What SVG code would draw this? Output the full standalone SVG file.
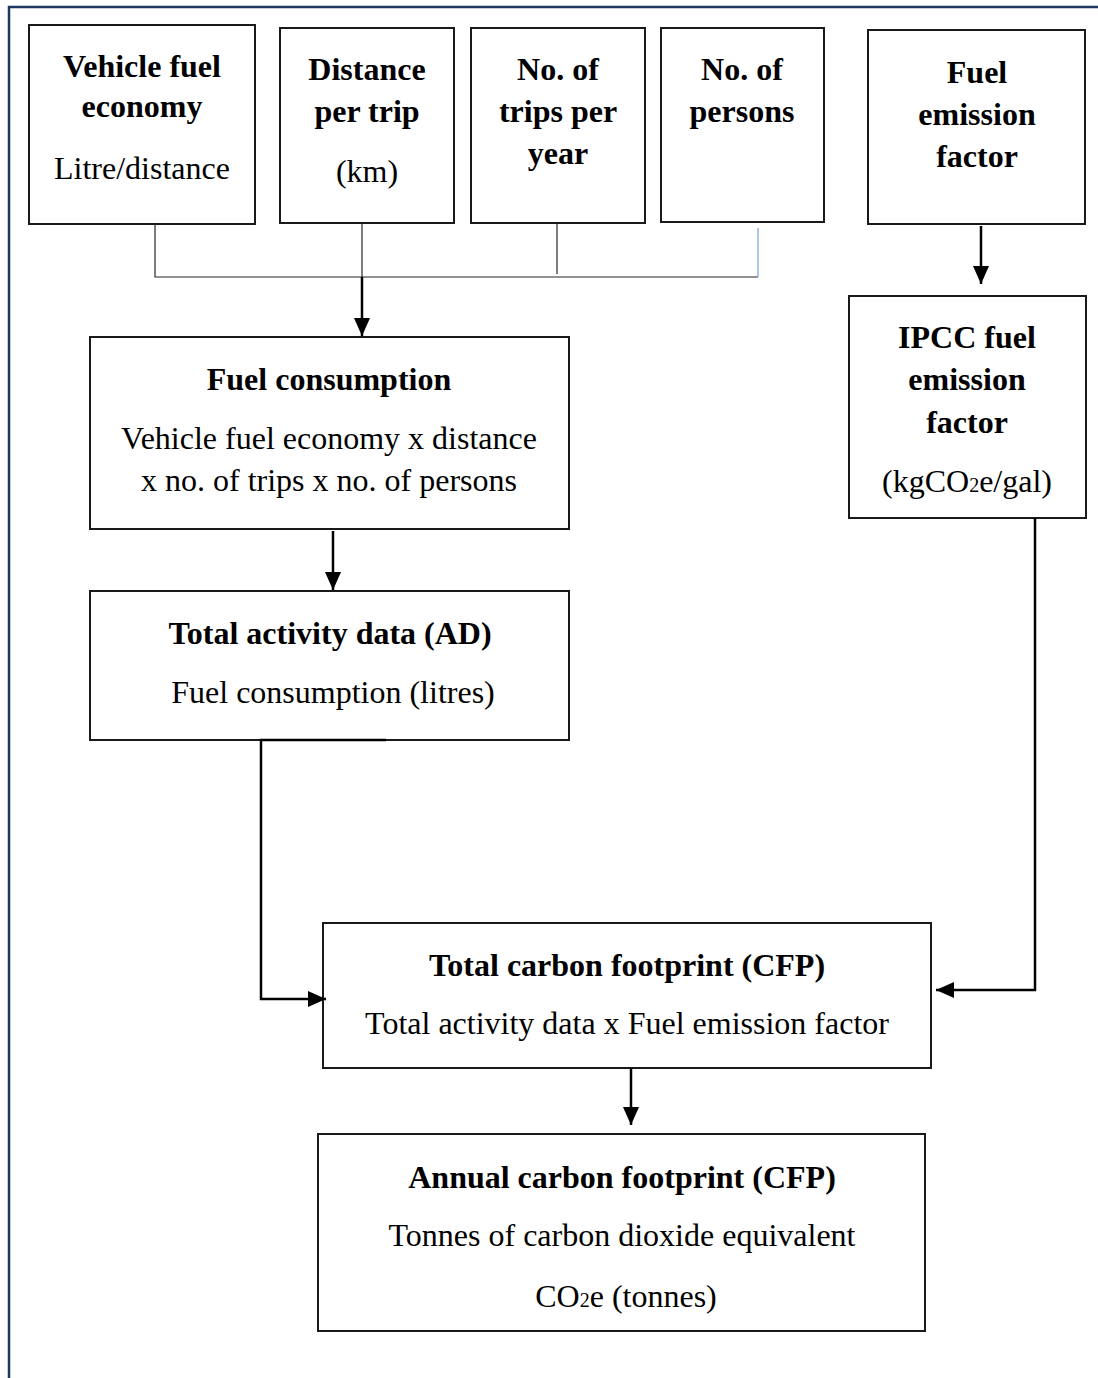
<svg xmlns="http://www.w3.org/2000/svg" width="1098" height="1378" viewBox="0 0 1098 1378">
  <style>
    .box { fill: #ffffff; stroke: #1a1a1a; stroke-width: 2; }
    .t { font-family: "Liberation Serif", "Times New Roman", serif; font-size: 32px; fill: #000; text-anchor: middle; }
    .b { font-weight: bold; }
    .sub { font-size: 20px; }
    .thin { fill: none; stroke: #262626; stroke-width: 1.2; }
    .blue { stroke: #7f9ed6; }
    .thick { fill: none; stroke: #000; stroke-width: 2.5; }
    .frame { fill: none; stroke: #1f3763; stroke-width: 2.5; }
  </style>
  <defs>
    <marker id="arrow" markerUnits="userSpaceOnUse" markerWidth="18" markerHeight="18" refX="18" refY="9" orient="auto">
      <path d="M0,1 L18,9 L0,17 Z" fill="#000"/>
    </marker>
  </defs>

  <!-- page frame -->
  <path class="frame" d="M9,1378 V7 H1098"/>

  <!-- input nodes -->
  <g id="vehicle-fuel-economy">
    <rect class="box" x="29" y="25" width="226" height="199"/>
    <text class="t b" x="142" y="77">Vehicle fuel</text>
    <text class="t b" x="142" y="117">economy</text>
    <text class="t" x="142" y="179">Litre/distance</text>
  </g>
  <g id="distance-per-trip">
    <rect class="box" x="280" y="28" width="174" height="195"/>
    <text class="t b" x="367" y="80">Distance</text>
    <text class="t b" x="367" y="122">per trip</text>
    <text class="t" x="367" y="182">(km)</text>
  </g>
  <g id="trips-per-year">
    <rect class="box" x="471" y="28" width="174" height="195"/>
    <text class="t b" x="558" y="80">No. of</text>
    <text class="t b" x="558" y="122">trips per</text>
    <text class="t b" x="558" y="164">year</text>
  </g>
  <g id="number-of-persons">
    <rect class="box" x="661" y="28" width="163" height="194"/>
    <text class="t b" x="742" y="80">No. of</text>
    <text class="t b" x="742" y="122">persons</text>
  </g>
  <g id="fuel-emission-factor">
    <rect class="box" x="868" y="30" width="217" height="194"/>
    <text class="t b" x="977" y="83">Fuel</text>
    <text class="t b" x="977" y="125">emission</text>
    <text class="t b" x="977" y="167">factor</text>
  </g>

  <!-- derived nodes -->
  <g id="ipcc-emission-factor">
    <rect class="box" x="849" y="296" width="237" height="222"/>
    <text class="t b" x="967" y="348">IPCC fuel</text>
    <text class="t b" x="967" y="390">emission</text>
    <text class="t b" x="967" y="433">factor</text>
    <text class="t" x="967" y="492">(kgCO<tspan class="sub">2</tspan>e/gal)</text>
  </g>
  <g id="fuel-consumption">
    <rect class="box" x="90" y="337" width="479" height="192"/>
    <text class="t b" x="329" y="390">Fuel consumption</text>
    <text class="t" x="329" y="449">Vehicle fuel economy x distance</text>
    <text class="t" x="329" y="491">x no. of trips x no. of persons</text>
  </g>
  <g id="total-activity-data">
    <rect class="box" x="90" y="591" width="479" height="149"/>
    <text class="t b" x="330" y="644">Total activity data (AD)</text>
    <text class="t" x="333" y="703">Fuel consumption (litres)</text>
  </g>
  <g id="total-carbon-footprint">
    <rect class="box" x="323" y="923" width="608" height="145"/>
    <text class="t b" x="627" y="976">Total carbon footprint (CFP)</text>
    <text class="t" x="627" y="1034">Total activity data x Fuel emission factor</text>
  </g>
  <g id="annual-carbon-footprint">
    <rect class="box" x="318" y="1134" width="607" height="197"/>
    <text class="t b" x="622" y="1188">Annual carbon footprint (CFP)</text>
    <text class="t" x="622" y="1246">Tonnes of carbon dioxide equivalent</text>
    <text class="t" x="626" y="1307">CO<tspan class="sub">2</tspan>e (tonnes)</text>
  </g>

  <!-- connectors -->
  <g id="connectors">
    <path class="thin" d="M155,224 V277 H758"/>
    <path class="thin" d="M362,223 V277"/>
    <path class="thin" d="M557,223 V274"/>
    <path class="thin blue" d="M758,228 V277"/>
    <path class="thick" d="M362,277 V336" marker-end="url(#arrow)"/>
    <path class="thick" d="M333,531 V590" marker-end="url(#arrow)"/>
    <path class="thick" d="M981,226 V284" marker-end="url(#arrow)"/>
    <path class="thick" d="M386,740 H261 V999 H326" marker-end="url(#arrow)"/>
    <path class="thick" d="M1035,518 V990 H936" marker-end="url(#arrow)"/>
    <path class="thick" d="M631,1068 V1125" marker-end="url(#arrow)"/>
  </g>
</svg>
